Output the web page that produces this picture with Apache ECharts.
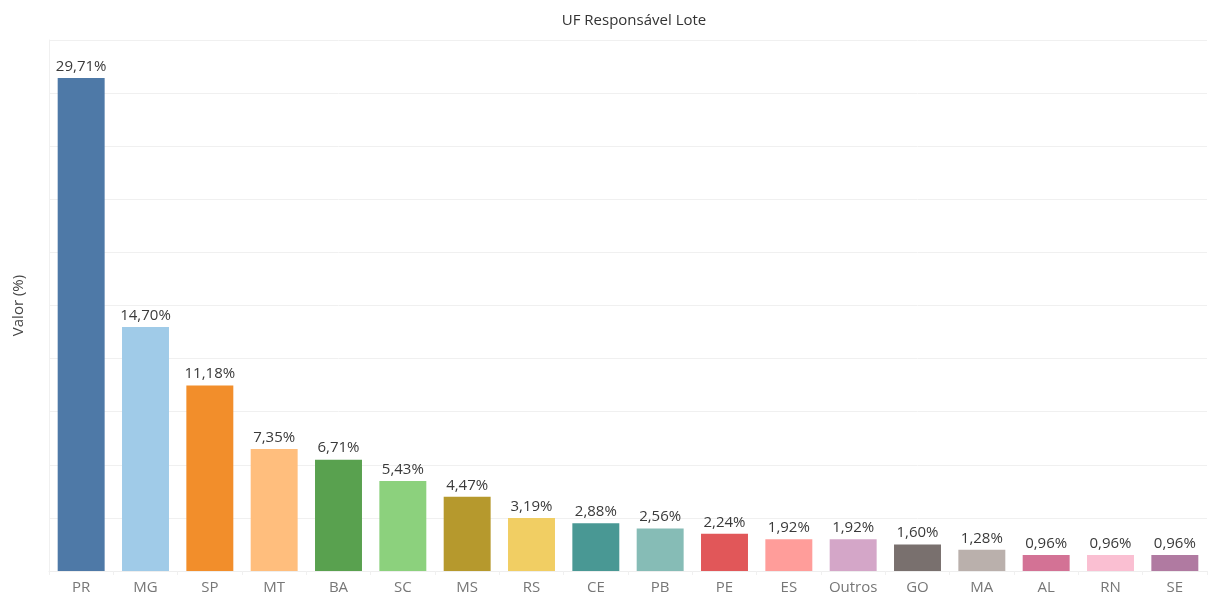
<!DOCTYPE html>
<html>
<head>
<meta charset="utf-8">
<script src="https://cdn.jsdelivr.net/npm/echarts@6/dist/echarts.min.js"></script>
<style>html,body{margin:0;padding:0;background:#fff}#c{width:1213px;height:596px}</style>
</head>
<body>
<div id="c"></div>
<script>
const categories = ['PR','MG','SP','MT','BA','SC','MS','RS','CE','PB','PE','ES','Outros','GO','MA','AL','RN','SE'];
const values = [29.71,14.70,11.18,7.35,6.71,5.43,4.47,3.19,2.88,2.56,2.24,1.92,1.92,1.60,1.28,0.96,0.96,0.96];
const colors = ['#4e79a7','#a0cbe8','#f28e2b','#ffbe7d','#59a14f','#8cd17d','#b6992d','#f1ce63','#499894','#86bcb6','#e15759','#ff9d9a','#d4a6c8','#79706e','#bab0ac','#d37295','#fabfd2','#b07aa1'];
const font = '"Open Sans", "Noto Sans", sans-serif';
const chart = echarts.init(document.getElementById('c'));
chart.setOption({
  animation: false,
  title: {text: 'UF Responsável Lote', left: 629, top: 8, textAlign: 'center',
    textStyle: {fontSize: 15, fontWeight: 'normal', color: '#333', fontFamily: font}},
  grid: {left: 49, right: 6, top: 40, bottom: 25},
  xAxis: {type: 'category', data: categories,
    axisLine: {lineStyle: {color: '#eeeeee'}}, axisTick: {show: true, lineStyle: {color: '#f0f0f0'}, length: 4},
    axisLabel: {color: '#777', fontSize: 15, fontFamily: font, margin: 9}},
  yAxis: {type: 'value', min: 0, max: 32, interval: 3.2, name: 'Valor (%)', nameLocation: 'middle', nameGap: 23,
    nameTextStyle: {color: '#444', fontSize: 15, fontFamily: font},
    axisLabel: {show: false}, axisTick: {show: false},
    axisLine: {show: true, lineStyle: {color: '#f0f0f0'}},
    splitLine: {lineStyle: {color: '#f0f0f0'}}},
  series: [{type: 'bar', barCategoryGap: '27%',
    data: values.map((v, i) => ({value: v, itemStyle: {color: colors[i]}})),
    label: {show: true, position: 'top', distance: 4, color: '#3a3a3a', fontSize: 15, fontFamily: font,
      formatter: p => p.value.toFixed(2).replace('.', ',') + '%'}}]
});
</script>
</body>
</html>
